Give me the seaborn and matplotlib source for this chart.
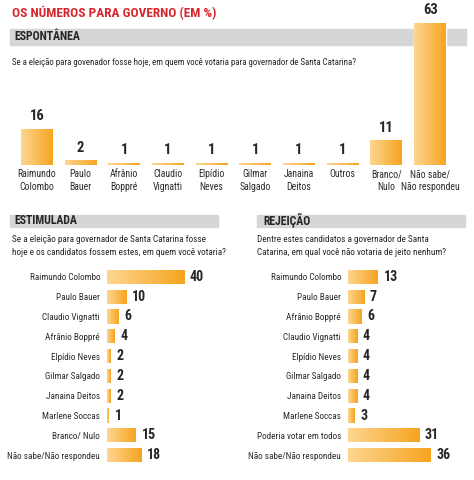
import numpy as np
import pandas as pd
import matplotlib
matplotlib.use('Agg')
import matplotlib.pyplot as plt
from matplotlib.patches import Rectangle
from matplotlib.colors import LinearSegmentedColormap
import seaborn as sns

# Data (%)
esp_labels = ['Raimundo\nColombo', 'Paulo\nBauer', 'Afrânio\nBoppré', 'Claudio\nVignatti',
              'Elpídio\nNeves', 'Gilmar\nSalgado', 'Janaina\nDeitos', 'Outros',
              'Branco/\nNulo', 'Não sabe/\nNão respondeu']
esp_values = [16, 2, 1, 1, 1, 1, 1, 1, 11, 63]

est_labels = ['Raimundo Colombo', 'Paulo Bauer', 'Claudio Vignatti', 'Afrânio Boppré',
              'Elpídio Neves', 'Gilmar Salgado', 'Janaina Deitos', 'Marlene Soccas',
              'Branco/ Nulo', 'Não sabe/Não respondeu']
est_values = [40, 10, 6, 4, 2, 2, 2, 1, 15, 18]

rej_labels = ['Raimundo Colombo', 'Paulo Bauer', 'Afrânio Boppré', 'Claudio Vignatti',
              'Elpídio Neves', 'Gilmar Salgado', 'Janaina Deitos', 'Marlene Soccas',
              'Poderia votar em todos', 'Não sabe/Não respondeu']
rej_values = [13, 7, 6, 4, 4, 4, 4, 3, 31, 36]

sns.set_style('white')
plt.rcParams['font.family'] = ['Roboto Condensed', 'Liberation Sans', 'DejaVu Sans']

W, H = 474, 480
fig = plt.figure(figsize=(W / 100, H / 100), dpi=100)

grad_cmap = LinearSegmentedColormap.from_list('bar', ['#fdd690', '#f6a420'])
grad = np.linspace(0, 1, 64).reshape(1, -1)
label_color = '#2b2b2b'


def box(x0, y0, x1, y1):
    # pixel box (top-left origin) -> figure fraction rect
    return [x0 / W, 1 - y1 / H, (x1 - x0) / W, (y1 - y0) / H]


def band(x0, y0, x1, y1, title, tx):
    fig.add_artist(Rectangle((x0 / W, 1 - y1 / H), (x1 - x0) / W, (y1 - y0) / H,
                             transform=fig.transFigure, color='#d5d6d8', zorder=-1))
    fig.text(tx / W, 1 - (y0 + y1) / 2 / H, title, fontsize=8.5, fontweight='bold',
             va='center', ha='left')


def gradient_bars(ax):
    xl, yl = ax.get_xlim(), ax.get_ylim()
    for p in ax.patches:
        x, y = p.get_x(), p.get_y()
        w, h = p.get_width(), p.get_height()
        im = ax.imshow(grad, cmap=grad_cmap, aspect='auto', zorder=2,
                       extent=[x, x + w, y, y + h], interpolation='bilinear')
        im.set_clip_path(p)
    ax.set_xlim(xl)
    ax.set_ylim(yl)


def clean(ax):
    for s in ax.spines.values():
        s.set_visible(False)
    ax.set_xlabel('')
    ax.set_ylabel('')
    ax.patch.set_alpha(0)


# Title
fig.text(12 / W, 1 - 13 / H, 'OS NÚMEROS PARA GOVERNO (EM %)', color='#d7262e',
         fontsize=9.6, fontweight='bold', va='center', ha='left')

# ESPONTÂNEA
band(10, 29, 466, 45, 'ESPONTÂNEA', 14)
fig.text(12 / W, 1 - 62 / H,
         'Se a eleição para govenador fosse hoje, em quem você votaria para governador de Santa Catarina?',
         fontsize=6.4, va='center', ha='left')

ax1 = fig.add_axes(box(15, 23, 452, 165))
df_esp = pd.DataFrame({'cat': esp_labels, 'val': esp_values})
sns.barplot(data=df_esp, x='cat', y='val', color='#f8b64c', width=0.73, ax=ax1)
ax1.set_ylim(0, 63)
ax1.set_xlim(-0.5, 9.5)
ax1.bar_label(ax1.containers[0], padding=4, fontsize=10.5, fontweight='bold')
gradient_bars(ax1)
clean(ax1)
ax1.set_yticks([])
ax1.tick_params(axis='x', length=0, pad=3, labelsize=7, labelcolor=label_color)
for t in ax1.get_xticklabels():
    t.set_linespacing(1.3)

# ESTIMULADA
band(10, 215, 218, 227, 'ESTIMULADA', 14)
fig.text(12 / W, 1 - 246 / H,
         'Se a eleição para governador de Santa Catarina fosse\nhoje e os candidatos fossem estes, em quem você votaria?',
         fontsize=6.6, va='center', ha='left', linespacing=1.45)

ax2 = fig.add_axes(box(107, 267, 218, 465))
df_est = pd.DataFrame({'cat': est_labels, 'val': est_values})
sns.barplot(data=df_est, y='cat', x='val', color='#f8b64c', width=0.71, orient='h', ax=ax2)
ax2.set_xlim(0, 57.5)
ax2.bar_label(ax2.containers[0], padding=4, fontsize=10, fontweight='bold')
gradient_bars(ax2)
clean(ax2)
ax2.set_xticks([])
ax2.tick_params(axis='y', length=0, pad=5, labelsize=6.6, labelcolor=label_color)

# REJEIÇÃO
band(257, 215, 465, 227, 'REJEIÇÃO', 263)
fig.text(257 / W, 1 - 246 / H,
         'Dentre estes candidatos a governador de Santa\nCatarina, em qual você não votaria de jeito nenhum?',
         fontsize=6.6, va='center', ha='left', linespacing=1.45)

ax3 = fig.add_axes(box(348, 267, 465, 465))
df_rej = pd.DataFrame({'cat': rej_labels, 'val': rej_values})
sns.barplot(data=df_rej, y='cat', x='val', color='#f8b64c', width=0.71, orient='h', ax=ax3)
ax3.set_xlim(0, 50.9)
ax3.bar_label(ax3.containers[0], padding=4, fontsize=10, fontweight='bold')
gradient_bars(ax3)
clean(ax3)
ax3.set_xticks([])
ax3.tick_params(axis='y', length=0, pad=5, labelsize=6.6, labelcolor=label_color)

fig.savefig('out.png', dpi=100)
